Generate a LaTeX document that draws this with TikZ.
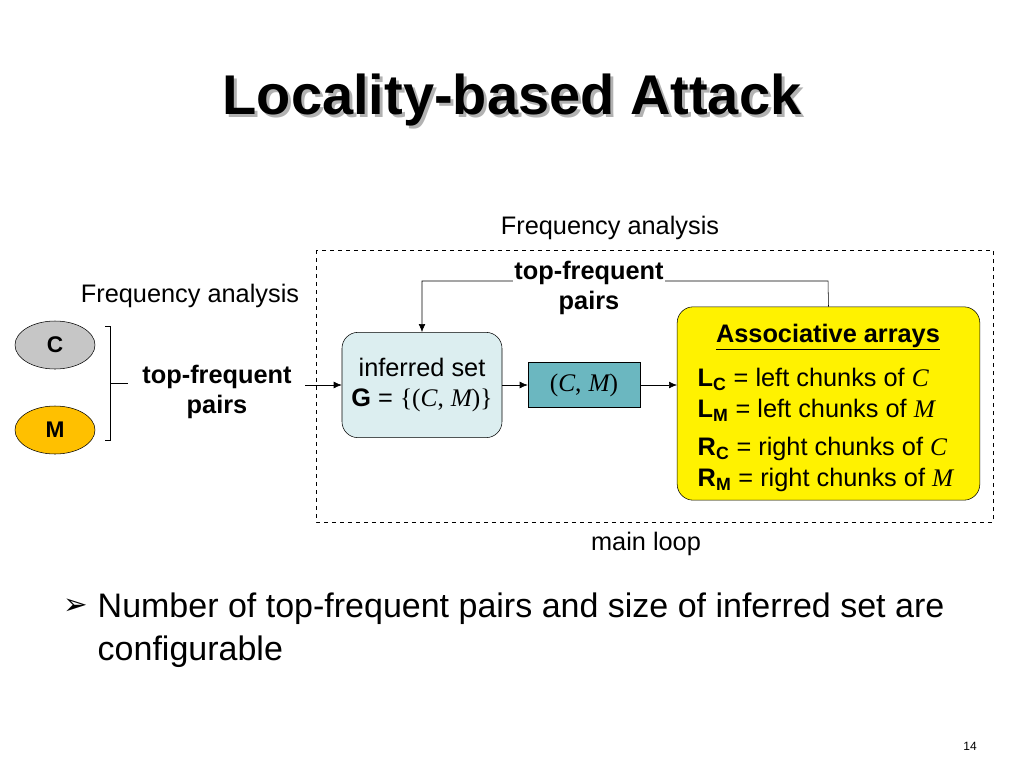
\documentclass[tikz,border=0pt]{standalone}
\usepackage{fontspec}
\setmainfont{Liberation Sans}
\newfontfamily\serifit{Liberation Serif}[ItalicFont=* Italic]
\newfontfamily\symfont{DejaVu Sans}
\usetikzlibrary{positioning,arrows.meta,shapes.geometric}
\newcommand{\vit}[1]{{\serifit\itshape #1}}
\newcommand{\vup}[1]{{\serifit #1}}
\newcommand{\sub}[2]{\textbf{#1}\textsubscript{\textbf{#2}}}
\begin{document}
\begin{tikzpicture}[x=0.75pt,y=-0.75pt,
  lbl/.style={font=\fontsize{19}{22}\selectfont},
  blbl/.style={font=\fontsize{19}{23}\selectfont\bfseries,align=center},
  box/.style={draw,rounded corners=12pt,inner sep=0pt},
  ell/.style={draw,ellipse,minimum width=60pt,minimum height=36pt,font=\fontsize{17}{20}\selectfont\bfseries},
  arr/.style={-{Latex[length=6pt,width=5pt]}}]
  \useasboundingbox (0,0) rectangle (1024,768);
  % title
  \node[font=\fontsize{42}{48}\selectfont\bfseries,text=gray!60] (shadow) at (515,103) {Locality-based Attack};
  \node[font=\fontsize{42}{48}\selectfont\bfseries] (title) at (512,100) {Locality-based Attack};
  % main loop frame
  \draw[dashed] (316,250) rectangle (993,522);
  \node[lbl] (fa1) at (610,228) {Frequency analysis};
  \node[lbl] (ml) at (646,544) {main loop};
  % left side
  \node[lbl] (fa0) at (190,296) {Frequency analysis};
  \node[ell,fill=gray!45] (c) at (55,345) {C};
  \node[ell,fill={rgb,255:red,255;green,192;blue,0}] (m) at (55,430) {M};
  \draw (105,326) -- (110,326) -- (110,440) -- (105,440);
  \draw (110,383) -- (128,383);
  \node[blbl] (tfp0) at (217,392) {top-frequent\\pairs};
  % boxes
  \node[box,fill={rgb,255:red,220;green,238;blue,240},minimum width=120pt,minimum height=79pt,
    align=center,font=\fontsize{19}{23}\selectfont] (inf) at (422,385)
    {inferred set\\\textbf{G} = \vup{\{(}\vit{C}\vup{,} \vit{M}\vup{)\}}};
  \node[draw,fill={rgb,255:red,107;green,183;blue,192},minimum width=84pt,minimum height=34pt,
    inner sep=0pt,font=\fontsize{19}{22}\selectfont] (cm) at (584,385) {\vup{(}\vit{C}\vup{,} \vit{M}\vup{)}};
  \node[box,fill=yellow,minimum width=227pt,minimum height=145pt] (assoc) at (828.5,403.5) {};
  \coordinate (ain) at (677,385);
  \node[font=\fontsize{19}{22}\selectfont\bfseries] (ah) at (828,337) {\underline{Associative arrays}};
  \node[font=\fontsize{19}{23.5}\selectfont,align=left,anchor=north west] (lc) at (693,363)
    {\sub{L}{C} = left chunks of \vit{C}\\\sub{L}{M} = left chunks of \vit{M}};
  \node[font=\fontsize{19}{23.5}\selectfont,align=left,anchor=north west] (rc) at (693,432)
    {\sub{R}{C} = right chunks of \vit{C}\\\sub{R}{M} = right chunks of \vit{M}};
  % connectors
  \draw[arr] (305,385) -- (inf.west);
  \draw[arr] (inf.east) -- (cm.west);
  \draw[arr] (cm.east) -- (ain);
  \draw[arr] (assoc.north) -- (828,281) -| (inf.north);
  \node[blbl,fill=white,inner sep=1pt] (tfp1) at (589,288) {top-frequent\\pairs};
  % bullet
  \node[font=\fontsize{22}{26}\selectfont\symfont] (bul) at (76,607) {➢};
  \node[font=\fontsize{25.5}{32}\selectfont,align=left,anchor=north west] (txt) at (93,588)
    {Number of top-frequent pairs and size of inferred set are\\configurable};
  \node[font=\fontsize{9}{11}\selectfont] (pg) at (970,746) {14};
\end{tikzpicture}
\end{document}
